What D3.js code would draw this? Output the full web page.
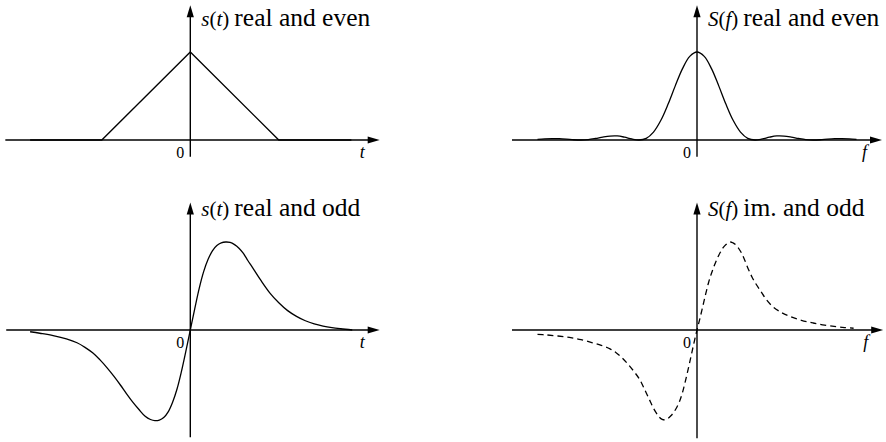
<!DOCTYPE html>
<html>
<head>
<meta charset="utf-8">
<script src="https://cdn.jsdelivr.net/npm/d3@7"></script>
<style>
  html, body { margin: 0; padding: 0; background: #fff; }
  svg { display: block; }
</style>
</head>
<body>
<svg id="chart" width="886" height="442"></svg>
<script>
// Triangular pulse s(t): real and even
const evenT = [-1.81, -1, 0, 1, 1.82];
const evenS = [0, 0, 1, 0, 0];

// Its spectrum S(f): real and even (sinc-squared shape)
const evenF = [-2.75, -2.625, -2.5, -2.375, -2.25, -2.125, -2, -1.875, -1.75, -1.625, -1.5, -1.375,
  -1.25, -1.125, -1, -0.875, -0.75, -0.625, -0.5, -0.375, -0.25, -0.125, 0,
  0.125, 0.25, 0.375, 0.5, 0.625, 0.75, 0.875, 1, 1.125, 1.25, 1.375, 1.5, 1.625,
  1.75, 1.875, 2, 2.125, 2.25, 2.375, 2.5, 2.625, 2.75];
const evenSpec = [0.007, 0.013, 0.016, 0.015, 0.010, 0.003, 0, 0.004, 0.017, 0.033, 0.045, 0.046,
  0.032, 0.012, 0, 0.019, 0.090, 0.221, 0.405, 0.615, 0.811, 0.950, 1,
  0.950, 0.811, 0.615, 0.405, 0.221, 0.090, 0.019, 0, 0.012, 0.032, 0.046, 0.045, 0.033,
  0.017, 0.004, 0, 0.003, 0.010, 0.015, 0.016, 0.013, 0.007];

// Odd pulse s(t): real and odd
const oddT = [-1.81, -1.7, -1.55, -1.4, -1.28, -1.19, -1.10, -1.02, -0.94, -0.86, -0.79, -0.72, -0.65, -0.58,
  -0.51, -0.45, -0.4, -0.35, -0.3, -0.25, -0.2, -0.15, -0.1, -0.05, 0,
  0.05, 0.1, 0.15, 0.2, 0.25, 0.3, 0.35, 0.4, 0.45, 0.5, 0.55, 0.6, 0.65, 0.7, 0.8, 0.9, 1.0,
  1.1, 1.2, 1.3, 1.4, 1.5, 1.6, 1.7, 1.83];
const oddS = [-0.02, -0.037, -0.063, -0.10, -0.145, -0.197, -0.262, -0.34, -0.43, -0.53, -0.625, -0.725, -0.82, -0.904,
  -0.98, -1.017, -1.03, -1.024, -0.995, -0.93, -0.82, -0.67, -0.47, -0.24, 0,
  0.24, 0.47, 0.66, 0.80, 0.90, 0.96, 0.99, 1.0, 0.995, 0.97, 0.93, 0.87, 0.79, 0.715, 0.56, 0.42, 0.31,
  0.22, 0.155, 0.105, 0.07, 0.045, 0.027, 0.014, 0];

// Its spectrum S(f): imaginary and odd
const oddF = [-2.75, -2.6, -2.4, -2.2, -2.0, -1.8, -1.65, -1.5, -1.4, -1.3, -1.2, -1.1, -1.0, -0.95, -0.9,
  -0.85, -0.8, -0.75, -0.7, -0.65, -0.6, -0.55, -0.5, -0.45, -0.4, -0.35, -0.3, -0.25, -0.2,
  -0.15, -0.1, -0.05, 0,
  0.05, 0.1, 0.15, 0.2, 0.25, 0.3, 0.35, 0.4, 0.45, 0.5, 0.57, 0.62, 0.68, 0.75, 0.8, 0.88,
  0.95, 1.01, 1.1, 1.18, 1.3, 1.45, 1.6, 1.8, 2.0, 2.2, 2.4, 2.55, 2.70];
const oddSpec = [-0.05, -0.056, -0.068, -0.085, -0.11, -0.145, -0.175, -0.215, -0.255, -0.31, -0.38, -0.46, -0.55, -0.61, -0.68,
  -0.75, -0.82, -0.89, -0.945, -0.99, -1.015, -1.02, -1.005, -0.975, -0.935, -0.88, -0.81, -0.71, -0.58,
  -0.44, -0.29, -0.14, 0,
  0.13, 0.27, 0.41, 0.54, 0.645, 0.735, 0.815, 0.88, 0.935, 0.972, 1.0, 0.99, 0.96, 0.895, 0.83, 0.70,
  0.60, 0.53, 0.44, 0.36, 0.27, 0.20, 0.155, 0.11, 0.08, 0.055, 0.038, 0.028, 0.02];

// Panel titles and axis names
const titleMath = [["s", "t"], ["S", "f"], ["s", "t"], ["S", "f"]];
const titleText = ["real and even", "real and even", "real and odd", "im. and odd"];
const axisName = ["t", "f", "t", "f"];
const originLabel = "0";

const serif = "'Liberation Serif', Tinos, 'Times New Roman', 'DejaVu Serif', serif";
const svg = d3.select("#chart");

// Layout of the four panels: origin, pixel scale, axis extents (in data units)
const panels = [
  { ox: 190.3, oy: 140, kx: 88.5, ky: 88, xr: [-2.09, 2.14], yr: [-0.19, 1.53],
    xs: evenT, ys: evenS, curve: d3.curveLinear, dash: null },
  { ox: 697, oy: 140, kx: 58, ky: 88, xr: [-3.19, 3.19], yr: [-0.19, 1.53],
    xs: evenF, ys: evenSpec, curve: d3.curveCatmullRom.alpha(0.5), dash: null },
  { ox: 190.3, oy: 330, kx: 88.5, ky: 88, xr: [-2.08, 2.14], yr: [-1.22, 1.45],
    xs: oddT, ys: oddS, curve: d3.curveCatmullRom.alpha(0.5), dash: null },
  { ox: 697, oy: 330, kx: 58, ky: 88, xr: [-3.19, 3.21], yr: [-1.23, 1.45],
    xs: oddF, ys: oddSpec, curve: d3.curveCatmullRom.alpha(0.5), dash: "6,4" }
];

const headLen = 12, headHalf = 3.6;

panels.forEach((p, i) => {
  const x = d3.scaleLinear().domain([0, 1]).range([p.ox, p.ox + p.kx]);
  const y = d3.scaleLinear().domain([0, 1]).range([p.oy, p.oy - p.ky]);
  const g = svg.append("g");

  // horizontal axis with arrow
  const x0 = x(p.xr[0]), x1 = x(p.xr[1]);
  g.append("line")
    .attr("x1", x0).attr("y1", y(0)).attr("x2", x1 - headLen + 1).attr("y2", y(0))
    .attr("stroke", "#000").attr("stroke-width", 1.4);
  g.append("path")
    .attr("d", `M${x1},${y(0)} L${x1 - headLen},${y(0) - headHalf} L${x1 - headLen},${y(0) + headHalf} Z`)
    .attr("fill", "#000");

  // vertical axis with arrow
  const y0 = y(p.yr[0]), y1 = y(p.yr[1]);
  g.append("line")
    .attr("x1", x(0)).attr("y1", y0).attr("x2", x(0)).attr("y2", y1 + headLen - 1)
    .attr("stroke", "#000").attr("stroke-width", 1.4);
  g.append("path")
    .attr("d", `M${x(0)},${y1} L${x(0) - headHalf},${y1 + headLen} L${x(0) + headHalf},${y1 + headLen} Z`)
    .attr("fill", "#000");

  // the signal / spectrum curve
  const line = d3.line()
    .x(d => x(d[0]))
    .y(d => y(d[1]))
    .curve(p.curve);
  const pts = p.xs.map((v, k) => [v, p.ys[k]]);
  const path = g.append("path")
    .attr("d", line(pts))
    .attr("fill", "none")
    .attr("stroke", "#000")
    .attr("stroke-width", 1.3);
  if (p.dash) path.attr("stroke-dasharray", p.dash);

  // origin label
  g.append("text")
    .attr("x", x(0) - 6).attr("y", y(0) + 18)
    .attr("text-anchor", "end")
    .attr("font-family", serif)
    .attr("font-size", 16)
    .attr("fill", "#000")
    .text(originLabel);

  // axis variable name
  g.append("text")
    .attr("x", x1 - 20).attr("y", y(0) + 18)
    .attr("font-family", serif)
    .attr("font-size", 18)
    .attr("font-style", "italic")
    .attr("fill", "#000")
    .text(axisName[i]);

  // title next to the vertical axis arrow
  const t = g.append("text")
    .attr("x", x(0) + 11).attr("y", y(0) - 114)
    .attr("font-family", serif)
    .attr("font-size", 21)
    .attr("fill", "#000");
  t.append("tspan").attr("font-style", "italic").text(titleMath[i][0]);
  t.append("tspan").text("(");
  t.append("tspan").attr("font-style", "italic").text(titleMath[i][1]);
  t.append("tspan").text(")");
  t.append("tspan").attr("dx", 5).attr("font-size", 25.5).text(titleText[i]);
});
</script>
</body>
</html>
